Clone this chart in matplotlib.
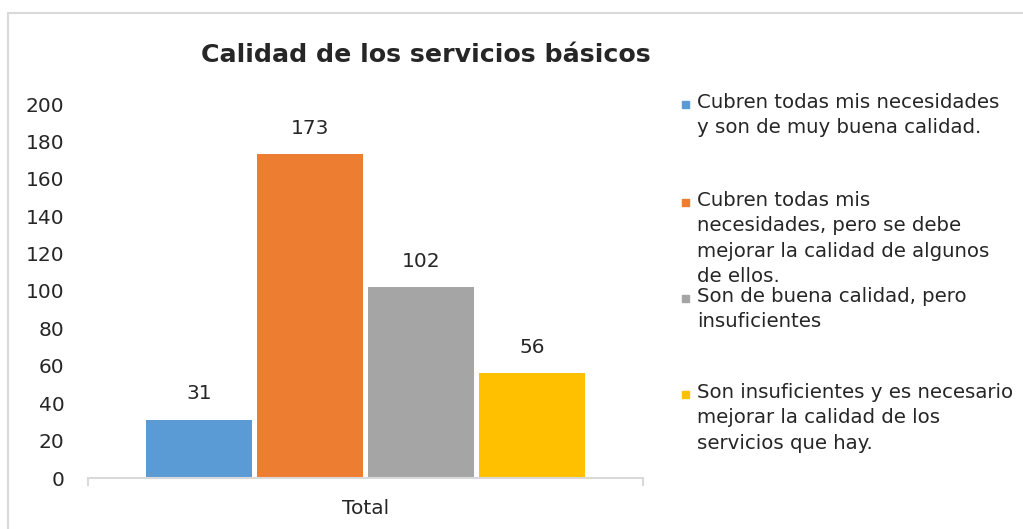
import matplotlib.pyplot as plt
from matplotlib.patches import Rectangle

# Encuesta: calidad de los servicios básicos
categories = ["Total"]
series_labels = [
    "Cubren todas mis necesidades\ny son de muy buena calidad.",
    "Cubren todas mis\nnecesidades, pero se debe\nmejorar la calidad de algunos\nde ellos.",
    "Son de buena calidad, pero\ninsuficientes",
    "Son insuficientes y es necesario\nmejorar la calidad de los\nservicios que hay.",
]
values = [31, 173, 102, 56]
colors = ["#5B9BD5", "#ED7D31", "#A5A5A5", "#FFC000"]
y_ticks = [0, 20, 40, 60, 80, 100, 120, 140, 160, 180, 200]

TEXT = "#262626"
GRID = "#D9D9D9"
W, H = 1023, 529

plt.rcParams["font.family"] = ["DejaVu Sans"]

fig = plt.figure(figsize=(W / 100, H / 100), dpi=100)

# outer chart border (clipped by the canvas on right/bottom)
fig.patches.append(Rectangle((8 / W, -0.1), 1.2, (H - 13) / H + 0.1,
                             transform=fig.transFigure, fill=False,
                             edgecolor=GRID, linewidth=1.5))

ax = fig.add_axes([88 / W, 51 / H, (643 - 88) / W, (478 - 104) / H])

offsets = [-0.3, -0.1, 0.1, 0.3]
bar_w = 0.191
for off, val, col, lab in zip(offsets, values, colors, series_labels):
    ax.bar(off, val, width=bar_w, color=col, label=lab)
    ax.annotate(str(val), (off, val), xytext=(0, 12), textcoords="offset points",
                ha="center", va="bottom", fontsize=14.5, color=TEXT)

ax.set_xlim(-0.5, 0.5)
ax.set_ylim(0, 200)
ax.set_yticks(y_ticks)
ax.set_xticks([0])
ax.set_xticklabels(categories)
ax.set_xticks([-0.5, 0.5], minor=True)
ax.tick_params(axis="x", which="major", length=0, labelsize=14.5, colors=TEXT, pad=15)
ax.tick_params(axis="x", which="minor", length=6, width=1.5, color=GRID, direction="out")
ax.tick_params(axis="y", length=0, labelsize=14.5, colors=TEXT, pad=17)
for s in ["top", "right", "left"]:
    ax.spines[s].set_visible(False)
ax.spines["bottom"].set_color(GRID)
ax.spines["bottom"].set_linewidth(1.5)

fig.text(426 / W, 1 - 55 / H, "Calidad de los servicios básicos",
         ha="center", va="center", fontsize=18.2, fontweight="bold", color=TEXT)

# legend drawn by hand so each entry keeps its own wrapping and spacing
entry_tops = [105, 203, 299, 395]
for top, col, lab in zip(entry_tops, colors, series_labels):
    fig.patches.append(Rectangle((682 / W, 1 - (top + 3) / H), 7 / W, 7 / H,
                                 transform=fig.transFigure, color=col))
    fig.text(697 / W, 1 - (top - 12) / H, lab, ha="left", va="top",
             fontsize=14.2, color=TEXT, linespacing=1.42)

fig.savefig("out.png", dpi=100)
